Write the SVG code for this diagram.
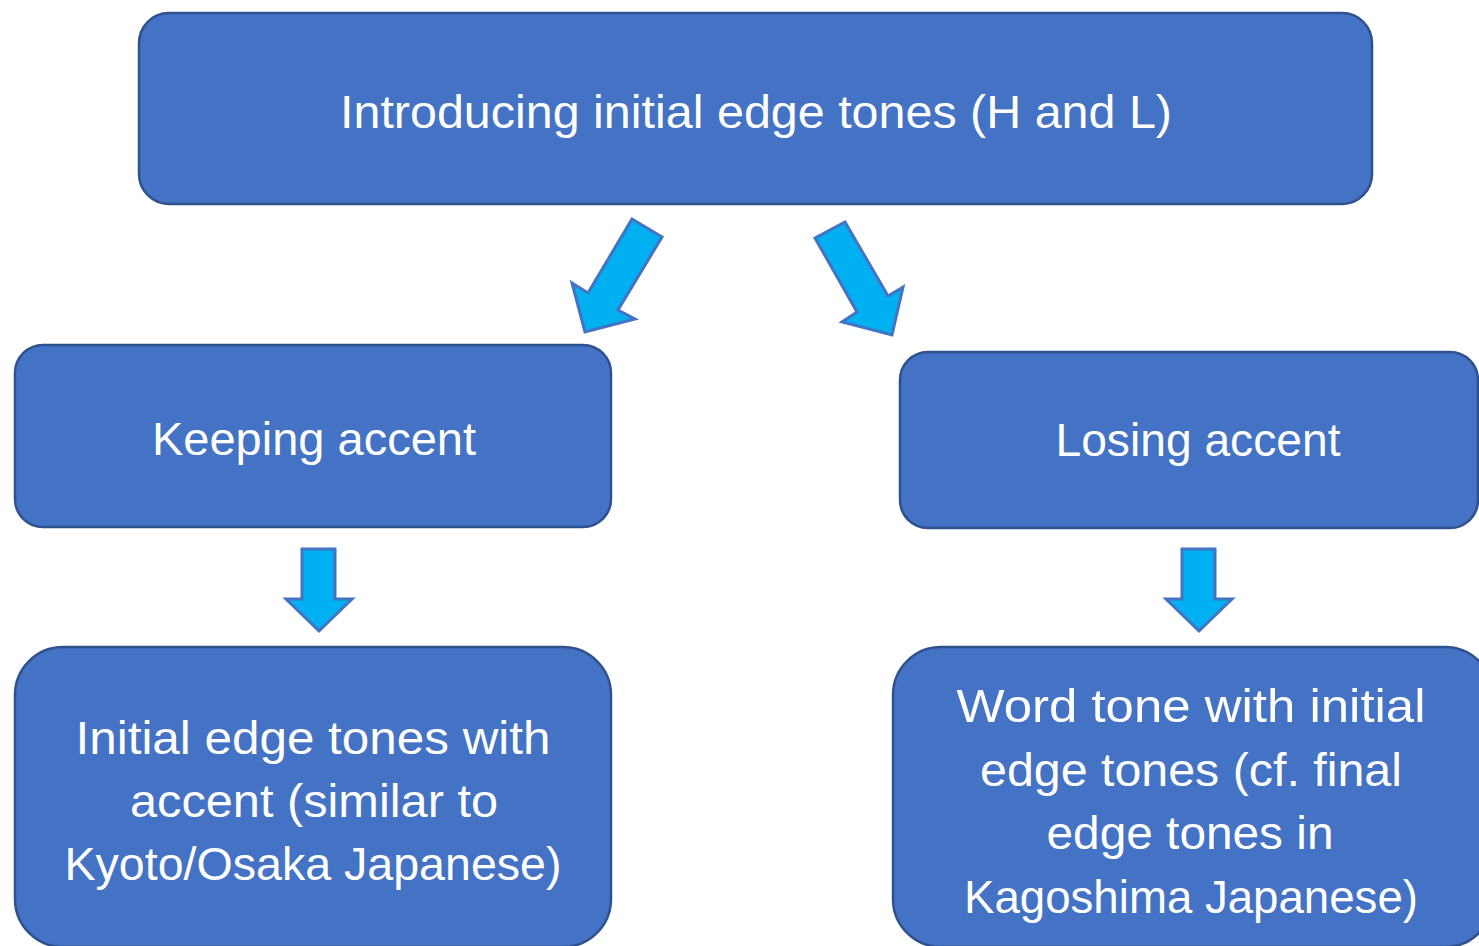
<svg xmlns="http://www.w3.org/2000/svg" width="1479" height="946" viewBox="0 0 1479 946">
<style>
.box{fill:#4472C4;stroke:#2F528F;stroke-width:2.5}
.arr{fill:#00B0F0;stroke:#4472C4;stroke-width:3;stroke-linejoin:miter}
text{font-family:"Liberation Sans",Arial,sans-serif;font-size:46px;fill:#ffffff;text-anchor:middle}
</style>
<rect width="1479" height="946" fill="#ffffff"/>
<g id="connectors">
<polygon class="arr" points="632,219 662,237 618,310 635,319 585,332 572,283 588,293"/>
<polygon class="arr" points="815,238 845,222 888,296 903,287 892,335 842,322 857,312"/>
<polygon class="arr" points="302,549 335,549 335,599 352,599 319,631 286,599 302,599"/>
<polygon class="arr" points="1182,549 1215,549 1215,599 1232,599 1199,631 1166,599 1182,599"/>
</g>
<g id="top">
<rect class="box" x="139" y="13" width="1233" height="191" rx="30"/>
<text x="756" y="128" textLength="832" lengthAdjust="spacingAndGlyphs">Introducing initial edge tones (H and L)</text>
</g>
<g id="keeping">
<rect class="box" x="15" y="345" width="596" height="182" rx="28"/>
<text x="314" y="455" textLength="324" lengthAdjust="spacingAndGlyphs">Keeping accent</text>
</g>
<g id="losing">
<rect class="box" x="900" y="352" width="578" height="176" rx="28"/>
<text x="1198" y="456" textLength="285" lengthAdjust="spacingAndGlyphs">Losing accent</text>
</g>
<g id="initial">
<rect class="box" x="15" y="647" width="596" height="300" rx="48"/>
<text x="313" y="754" textLength="475" lengthAdjust="spacingAndGlyphs">Initial edge tones with</text>
<text x="314" y="817" textLength="368" lengthAdjust="spacingAndGlyphs">accent (similar to</text>
<text x="313" y="880" textLength="497" lengthAdjust="spacingAndGlyphs">Kyoto/Osaka Japanese)</text>
</g>
<g id="wordtone">
<rect class="box" x="893" y="647" width="600" height="300" rx="48"/>
<text x="1191" y="722" textLength="469" lengthAdjust="spacingAndGlyphs">Word tone with initial</text>
<text x="1191" y="786" textLength="422" lengthAdjust="spacingAndGlyphs">edge tones (cf. final</text>
<text x="1190" y="849" textLength="287" lengthAdjust="spacingAndGlyphs">edge tones in</text>
<text x="1191" y="913" textLength="454" lengthAdjust="spacingAndGlyphs">Kagoshima Japanese)</text>
</g>
</svg>
